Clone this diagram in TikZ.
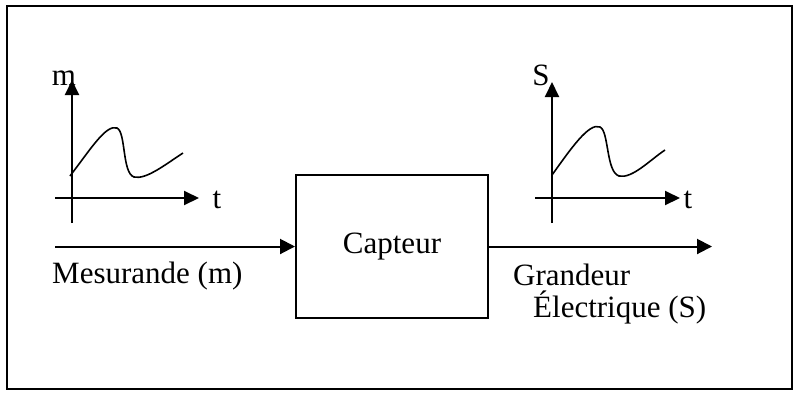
\documentclass[tikz,border=0pt]{standalone}
\usepackage{fontspec}
\setmainfont{Liberation Serif}
\usepackage{tikz}
\usetikzlibrary{positioning, arrows.meta}

\begin{document}
\begin{tikzpicture}[
    x=1pt, y=-1pt,
    font=\fontsize{31}{36}\selectfont,
    box/.style={draw, line width=2pt, minimum width=192pt, minimum height=143pt,
                text centered, inner sep=0pt},
    arrow/.style={-{Triangle[length=15pt,width=15pt]}, line width=2pt},
    axis/.style={-{Triangle[length=15pt,width=14pt]}, line width=2pt},
    curve/.style={line width=1.6pt},
    lbl/.style={inner sep=0pt, anchor=base}
]
\useasboundingbox (0,0) rectangle (795,392);
\draw[line width=2pt] (7,6) rectangle (792,389);

% capteur block
\node[box] (capteur) at (392,246.5) {Capteur};

% input and output signals
\coordinate (in)  at (55,246.5);
\coordinate (out) at (712,246.5);
\draw[arrow] (in) -- (capteur.west);
\draw[arrow] (capteur.east) -- (out);
\node[lbl, anchor=base west] (mesurande) at (52,283) {Mesurande (m)};
\node[lbl, anchor=base west] (grandeur)  at (513,285) {Grandeur};
\node[lbl, anchor=base west] (electrique) at (533,317) {Électrique (S)};

% graph of the measurand
\coordinate (mO) at (72,223);
\coordinate (mY) at (72,80);
\coordinate (mA) at (55,198);
\coordinate (mX) at (199,198);
\draw[axis] (mO) -- (mY);
\draw[axis] (mA) -- (mX);
\node[lbl] (mlabel) at (64,85)  {m};
\node[lbl] (mt)     at (217,208) {t};
\draw[curve] (70,176) .. controls (90,150) and (106,124) .. (117,128)
    .. controls (126,132) and (122,173) .. (134,177)
    .. controls (146,180) and (166,164) .. (183,153);

% graph of the electrical quantity
\coordinate (sO) at (552,223);
\coordinate (sY) at (552,82);
\coordinate (sA) at (535,198);
\coordinate (sX) at (680,198);
\draw[axis] (sO) -- (sY);
\draw[axis] (sA) -- (sX);
\node[lbl] (slabel) at (541,85)  {S};
\node[lbl] (st)     at (688,208) {t};
\draw[curve] (552,175) .. controls (570,150) and (589,122) .. (600,127)
    .. controls (609,131) and (606,172) .. (619,176)
    .. controls (632,179) and (650,160) .. (665,150);
\end{tikzpicture}
\end{document}
